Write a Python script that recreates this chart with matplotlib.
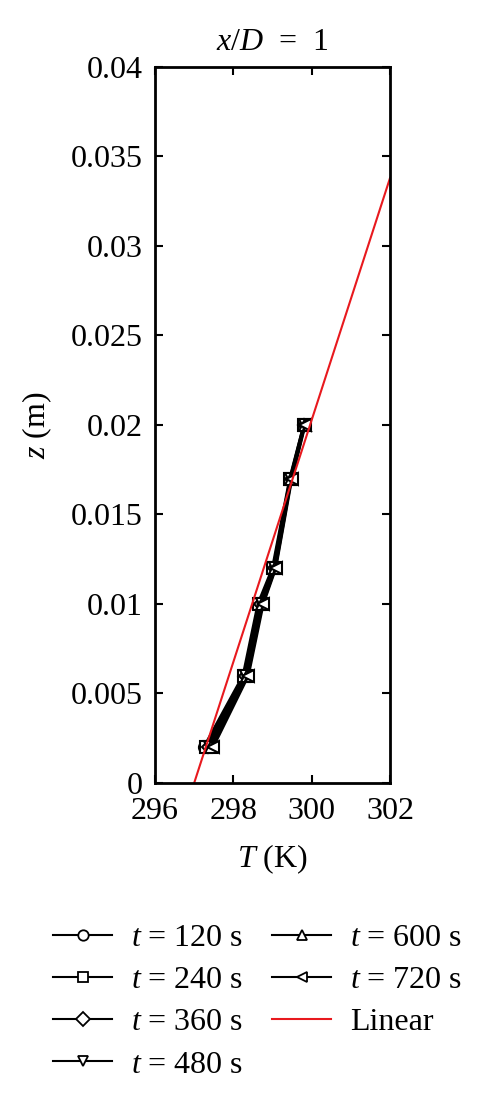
import matplotlib
matplotlib.use("Agg")
import matplotlib.pyplot as plt
import matplotlib.lines as mlines
from matplotlib.ticker import FixedLocator

plt.rcParams['font.family'] = ['Liberation Serif', 'DejaVu Serif']
plt.rcParams['mathtext.fontset'] = 'custom'
plt.rcParams['mathtext.it'] = 'Liberation Serif:italic'
plt.rcParams['mathtext.rm'] = 'Liberation Serif'

z = [0.002, 0.006, 0.010, 0.012, 0.017, 0.020]
labels = ["120", "240", "360", "480", "600", "720"]
T120 = [297.25, 298.25, 298.63, 299.00, 299.44, 299.80]
T240 = [297.30, 298.28, 298.66, 299.02, 299.45, 299.80]
T360 = [297.35, 298.30, 298.69, 299.04, 299.46, 299.81]
T480 = [297.40, 298.33, 298.72, 299.06, 299.47, 299.82]
T600 = [297.44, 298.36, 298.74, 299.07, 299.48, 299.82]
T720 = [297.48, 298.38, 298.76, 299.08, 299.49, 299.83]
series = [T120, T240, T360, T480, T600, T720]
markers = ['o', 's', 'D', 'v', '^', '<']
lin_T = [297.0, 302.0]
lin_z = [0.0, 0.0338]
yticks = [0, 0.005, 0.01, 0.015, 0.02, 0.025, 0.03, 0.035, 0.04]
yticklabels = ['0', '0.005', '0.01', '0.015', '0.02', '0.025', '0.03', '0.035', '0.04']
xticks = [296, 298, 300, 302]

FS = 23

fig = plt.figure(figsize=(4.82, 11.02), dpi=100)
ax = fig.add_axes([0.3216, 0.2895, 0.4876, 0.6497])

for T, m, lab in zip(series, markers, labels):
    ms = 8 if m != 'D' else 6.5
    ax.plot(T, z, color='black', lw=2.2, marker=m, markersize=ms,
            markerfacecolor='white', markeredgecolor='black', markeredgewidth=1.5)
ax.plot(lin_T, lin_z, color='#e8191e', lw=1.5)

ax.set_xlim(296, 302)
ax.set_ylim(0, 0.04)
ax.xaxis.set_major_locator(FixedLocator(xticks))
ax.yaxis.set_major_locator(FixedLocator(yticks))
ax.set_yticklabels(yticklabels)
ax.tick_params(direction='in', top=True, right=True, length=6, width=1.5, labelsize=FS)
ax.tick_params(axis='x', pad=10)
ax.tick_params(axis='y', pad=9)
for s in ax.spines.values():
    s.set_linewidth(2)

ax.set_xlabel(r'$T$ (K)', fontsize=FS, labelpad=12)
ax.set_ylabel(r'$z$ (m)', fontsize=FS, labelpad=12)
ax.set_title(r'$x/D$  =  1', fontsize=FS, pad=12)

leg_handles = []
for m, lab in zip(markers, labels):
    leg_handles.append(mlines.Line2D([], [], color='black', lw=1.5, marker=m, markersize=7.5,
                                     markerfacecolor='white', markeredgecolor='black',
                                     markeredgewidth=1.3, label=r'$t$ = ' + lab + ' s'))
leg_handles.append(mlines.Line2D([], [], color='#e8191e', lw=1.5, label='Linear'))
fig.legend(handles=leg_handles, loc='upper left', bbox_to_anchor=(0.11, 0.1617),
           ncol=2, frameon=False, fontsize=FS, handlelength=1.85, handletextpad=0.6,
           columnspacing=0.9, labelspacing=0.4, borderaxespad=0, borderpad=0)

fig.savefig('out.png', dpi=100)
